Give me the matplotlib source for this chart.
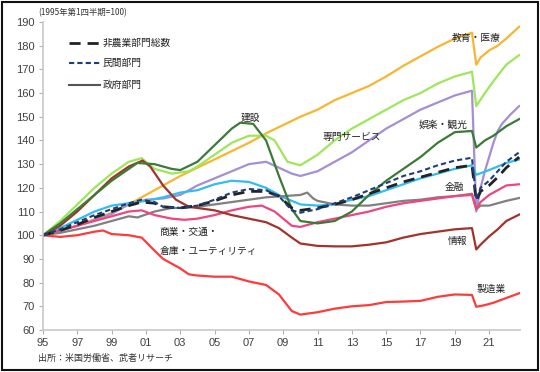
import matplotlib
matplotlib.use("Agg")
import matplotlib.pyplot as plt
from matplotlib.patches import Rectangle

plt.rcParams['font.family'] = ['Noto Sans CJK JP', 'DejaVu Sans']

# ---- data (index, 1995Q1 = 100) ----
edu_t = [1995, 1997, 1999, 2000, 2001, 2002, 2003, 2004, 2005, 2006, 2007, 2008, 2009, 2010, 2011,
         2012, 2013, 2014, 2015, 2016, 2017, 2018, 2019, 2020.0, 2020.25, 2020.5, 2021, 2021.5, 2022, 2022.75]
edu_v = [100, 104, 109.5, 113, 117, 121, 125, 128.5, 132, 135.5, 139, 143, 146.5, 150, 153,
         157, 160, 163, 167, 171.5, 175.5, 179.5, 183, 185.5, 172, 175, 178, 180, 183, 188]

prof_t = [1995, 1996, 1997, 1998, 1999, 2000, 2000.75, 2001.5, 2002.5, 2003.5, 2004, 2005, 2006, 2007,
          2008, 2008.5, 2009.25, 2010, 2011, 2012, 2013, 2014, 2015, 2016, 2017, 2018, 2019, 2020.0,
          2020.25, 2020.75, 2021.25, 2022, 2022.75]
prof_v = [100, 106, 113, 120, 126, 131, 132.5, 128, 126, 127, 129, 134, 139, 142,
          142, 140, 131, 129.5, 134, 140, 145, 149, 153, 157, 160, 164, 167, 169,
          154.5, 160, 165, 172, 176]

leis_t = [1995, 1997, 1999, 2000, 2001, 2002, 2003, 2004, 2005, 2006, 2007, 2008, 2009.5, 2010, 2011,
          2012, 2013, 2014, 2015, 2016, 2017, 2018, 2019, 2020.0, 2020.25, 2020.5, 2020.75, 2021.0,
          2021.25, 2021.5, 2021.75, 2022.0, 2022.25, 2022.75]
leis_v = [100, 104, 109, 113, 115, 115.5, 117, 121, 124, 127, 130, 131, 126, 125, 127,
          131, 135, 140, 145, 149, 153, 156, 159, 161, 110, 120, 127, 133,
          139, 144, 147, 149, 151, 154.5]

cons_t = [1995, 1996, 1997, 1998, 1999, 2000, 2000.5, 2001.5, 2002.5, 2003, 2004, 2005, 2006, 2006.5,
          2007.25, 2008, 2008.75, 2009.5, 2010, 2011, 2012, 2013, 2014, 2015, 2016, 2017, 2018, 2019,
          2020.0, 2020.25, 2020.75, 2021.25, 2022, 2022.75]
cons_v = [100, 105, 111, 117, 123, 128, 130.5, 130, 128, 127.5, 131, 138, 145, 147.5,
          147, 140, 125, 111, 106, 105, 106, 110, 117, 123, 128, 133, 139, 143.5,
          144, 137, 140, 142, 146, 149]

fin_t = [1995, 1996, 1997, 1998, 1999, 2000, 2001, 2002, 2003, 2004, 2005, 2006, 2007, 2008, 2009,
         2010, 2011, 2012, 2013, 2014, 2015, 2016, 2017, 2018, 2019, 2020.0, 2020.25, 2021, 2022, 2022.75]
fin_v = [100, 103, 106.5, 110, 112.5, 113.5, 114.5, 116, 118, 119, 121.5, 123, 122.5, 120, 116,
         113, 112.5, 113, 115, 116.5, 119, 121.5, 124, 126, 128, 129.5, 125.5, 127.5, 130.5, 132]

total_t = [1995, 1996, 1997, 1998, 1999, 2000, 2000.75, 2001.5, 2002, 2003, 2004, 2005, 2006, 2007,
           2008, 2008.75, 2009.5, 2010, 2011, 2012, 2013, 2014, 2015, 2016, 2017, 2018, 2019, 2020.0,
           2020.25, 2020.5, 2021, 2021.5, 2022, 2022.75]
total_v = [100, 102, 104.5, 107.5, 110, 112.5, 114, 113.5, 112, 111.5, 112.5, 114.5, 117, 118.5,
           118.5, 116.5, 111.5, 110.5, 111.5, 113, 115, 117.5, 120, 122.5, 124.5, 126.5, 128.5, 129.5,
           114.5, 118.5, 121, 124.5, 128.5, 133]

priv_t = [1995, 1996, 1997, 1998, 1999, 2000, 2000.75, 2001.5, 2002, 2003, 2004, 2005, 2006, 2007,
          2008, 2008.75, 2009.5, 2010, 2011, 2012, 2013, 2014, 2015, 2016, 2017, 2018, 2019, 2020.0,
          2020.25, 2020.5, 2021, 2021.5, 2022, 2022.75]
priv_v = [100, 102.5, 105.5, 108.5, 111, 113.5, 115, 114, 112, 111.5, 112.5, 115, 118, 119.5,
          119, 116.5, 110.5, 109.5, 111, 113.5, 116, 119, 122, 125, 127, 129.5, 131.5, 132.7,
          115, 120, 123, 127, 131, 135]

gov_t = [1995, 1996, 1997, 1998, 1999, 2000, 2000.5, 2001.5, 2002.5, 2003, 2004, 2005, 2006, 2007,
         2008, 2009, 2010, 2010.4, 2010.75, 2011, 2012, 2013, 2014, 2015, 2016, 2017, 2018, 2019,
         2020.0, 2020.25, 2020.5, 2021, 2021.5, 2022, 2022.75]
gov_v = [100, 101, 102.5, 104, 106, 108, 107.5, 110, 111.5, 111.5, 112, 113, 114, 115,
         116, 116.5, 117, 118, 115.5, 114.5, 113, 112.5, 112.5, 113.5, 114.5, 115, 116, 116.5,
         117.5, 111, 112.5, 112.5, 113.5, 114.5, 115.7]

trade_t = [1995, 1996, 1997, 1998, 1999, 2000, 2000.75, 2001.5, 2002.5, 2003.25, 2004, 2005, 2006,
           2007, 2007.75, 2008.5, 2009.5, 2010, 2011, 2012, 2013, 2014, 2015, 2016, 2017, 2018, 2019,
           2020.0, 2020.25, 2020.5, 2021, 2021.5, 2022, 2022.75]
trade_v = [100, 102, 104, 106, 108, 110, 110.5, 108.5, 107, 106.5, 107, 108.5, 110.5,
           112, 112.5, 110, 104, 103.5, 105.5, 107, 108.5, 110, 112, 113.5, 114.5, 115.5, 116.5,
           117, 111, 114, 117, 119, 121, 121.5]

info_t = [1995, 1996, 1997, 1998, 1999, 2000, 2000.8, 2001.25, 2002, 2002.75, 2003.5, 2004, 2005,
          2006, 2007, 2008, 2008.75, 2009.5, 2010, 2011, 2012, 2013, 2014, 2015, 2016, 2017, 2018,
          2019, 2020.0, 2020.25, 2020.5, 2021, 2021.5, 2022, 2022.75]
info_v = [100, 104, 110, 117, 124, 129, 131.5, 129, 121, 115, 112, 111.5, 110.5,
          108.5, 107, 105.5, 103, 99, 96.5, 95.5, 95.3, 95.3, 96, 97, 99, 100.5, 101.5,
          102.5, 103, 94, 96, 99.5, 102.5, 106, 108.7]

mfg_t = [1995, 1996, 1997, 1998, 1998.5, 1999, 2000, 2000.75, 2001.5, 2002, 2003, 2003.5, 2004, 2005,
         2006, 2007, 2008, 2008.75, 2009.5, 2010, 2011, 2012, 2013, 2014, 2015, 2016, 2017, 2018, 2019,
         2020.0, 2020.25, 2020.75, 2021.25, 2022, 2022.75]
mfg_v = [100, 99.3, 100, 101.5, 102, 100.5, 100, 99, 93.5, 90, 86, 83.5, 83, 82.5,
         82.5, 80.5, 79, 75, 68, 66.5, 67.5, 69, 70, 70.5, 71.8, 72, 72.3, 74, 75,
         74.8, 69.8, 70.5, 71.5, 73.5, 75.5]

xtick_pos = [1995, 1997, 1999, 2001, 2003, 2005, 2007, 2009, 2011, 2013, 2015, 2017, 2019, 2021]
xtick_lab = ['95', '97', '99', '01', '03', '05', '07', '09', '11', '13', '15', '17', '19', '21']
yticks = list(range(60, 200, 10))

# ---- figure ----
fig = plt.figure(figsize=(5.4, 3.72), dpi=100)
ax = fig.add_axes([0.0796, 0.1129, 0.8834, 0.828])

lw = 1.6
ax.plot(edu_t, edu_v, color='#F8B531', lw=lw)
ax.plot(prof_t, prof_v, color='#9EE65A', lw=lw)
ax.plot(leis_t, leis_v, color='#A58FD2', lw=lw)
ax.plot(fin_t, fin_v, color='#33BDEE', lw=lw)
ax.plot(gov_t, gov_v, color='#808080', lw=lw)
ax.plot(trade_t, trade_v, color='#F0457D', lw=lw)
ax.plot(info_t, info_v, color='#A2332C', lw=lw)
ax.plot(mfg_t, mfg_v, color='#FF3A3A', lw=lw)
ax.plot(cons_t, cons_v, color='#3C7A38', lw=lw)
ax.plot(total_t, total_v, color='#222222', lw=2.0, dashes=(4, 2.5))
ax.plot(priv_t, priv_v, color='#1F3C7C', lw=1.5, dashes=(2.5, 1.5))

ax.set_xlim(1995, 2022.8)
ax.set_ylim(60, 190)
ax.set_xticks(xtick_pos)
ax.set_xticklabels(xtick_lab)
ax.set_yticks(yticks)
for lab in ax.get_xticklabels() + ax.get_yticklabels():
    lab.set_fontfamily(['Liberation Sans', 'DejaVu Sans'])
for s in ['top', 'right']:
    ax.spines[s].set_visible(False)
for s in ['left', 'bottom']:
    ax.spines[s].set_color('#C8C8C8')
    ax.spines[s].set_linewidth(1.2)
ax.tick_params(axis='both', colors='#B0B0B0', labelcolor='#404040', labelsize=8,
               length=3, width=0.8, direction='out', pad=3)

# ---- legend (manual) ----
def legend_line(y, label, color, lwid, dashes):
    kw = dict(color=color, lw=lwid, transform=ax.transData, clip_on=False)
    line, = ax.plot([1996.5, 1998.3], [y, y], **kw)
    if dashes:
        line.set_dashes(dashes)
    ax.text(1998.45, y, label, fontsize=7, va='center', ha='left', color='#222222')

legend_line(181, '非農業部門総数', '#222222', 2.0, (4, 2.5))
legend_line(172.5, '民間部門', '#1F3C7C', 1.5, (2.5, 1.5))
legend_line(163.5, '政府部門', '#555555', 1.5, None)

# ---- annotations ----
tk = dict(fontsize=7, color='#222222', ha='left', va='center')
ax.text(2018.8, 183.2, '教育・医療', **tk)
ax.text(2006.5, 149.5, '建設', **tk)
ax.text(2011.3, 141.5, '専門サービス', **tk)
ax.text(2016.9, 146.5, '娯楽・観光', **tk)
ax.text(2018.4, 120.5, '金融', **tk)
ax.text(2001.8, 101.5, '商業・交通・', **tk)
ax.text(2001.8, 93.5, '倉庫・ユーティリティ', **tk)
ax.text(2018.6, 97.5, '情報', **tk)
ax.text(2020.3, 77.5, '製造業', **tk)

fig.text(38 / 540, 1 - 13 / 372, '(1995年第1四半期=100)', fontsize=6, color='#333333',
         ha='left', va='center')
fig.text(38 / 540, 1 - 358 / 372, '出所：米国労働省、武者リサーチ', fontsize=6.5, color='#333333',
         ha='left', va='center')

fig.patches.append(Rectangle((0.004, 0.006), 0.992, 0.988, transform=fig.transFigure,
                             fill=False, edgecolor='#111111', lw=1.5))

fig.savefig('out.png', dpi=100)
